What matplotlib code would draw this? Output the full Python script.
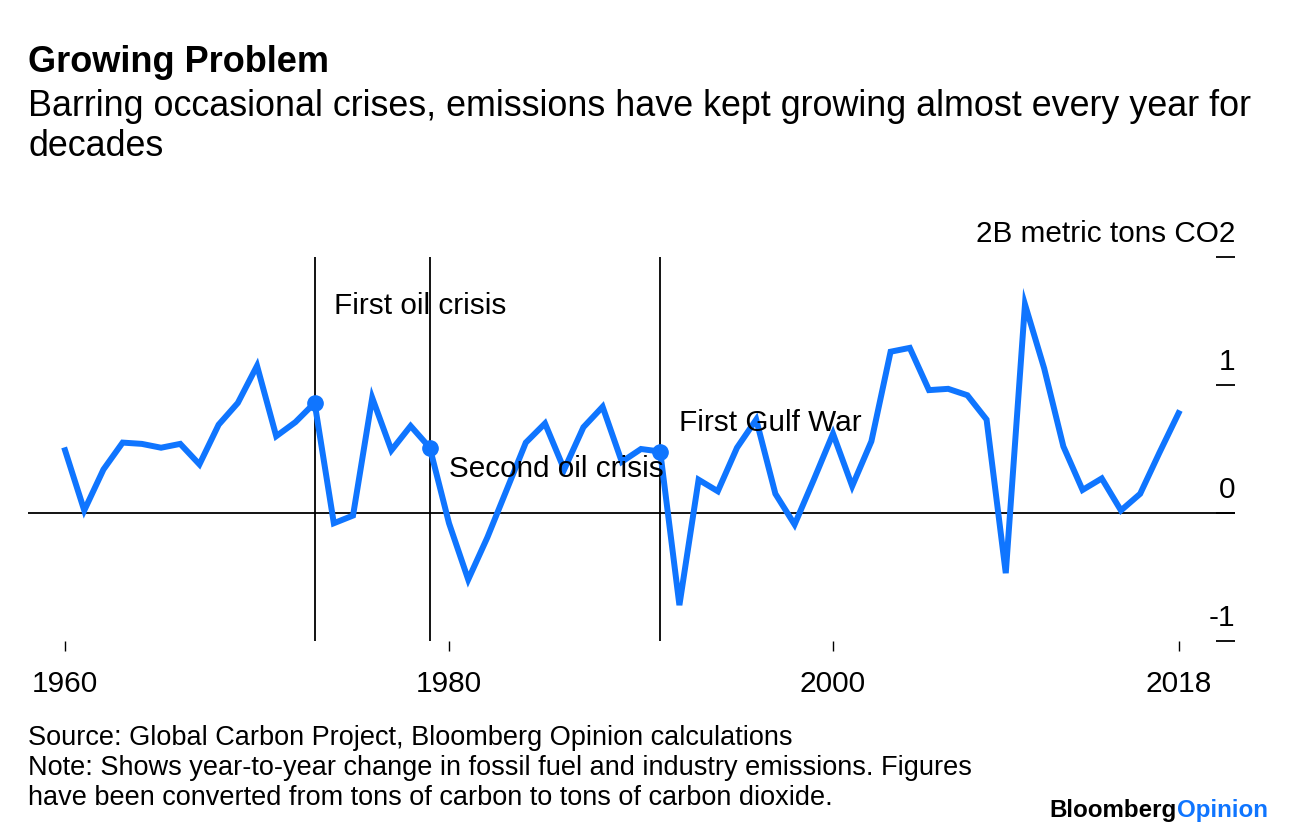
import matplotlib
matplotlib.use("Agg")
import matplotlib.pyplot as plt
import matplotlib.transforms as mtransforms

plt.rcParams['font.family'] = ['Liberation Sans', 'DejaVu Sans']

# year-to-year change in emissions, billion metric tons CO2
years = list(range(1960, 2019))
change = [0.49, 0.02, 0.34, 0.55, 0.54, 0.51, 0.54, 0.38, 0.69, 0.86,
          1.15, 0.60, 0.71, 0.86, -0.08, -0.02, 0.90, 0.49, 0.68, 0.51,
          -0.08, -0.52, -0.19, 0.18, 0.55, 0.70, 0.34, 0.67, 0.83, 0.40,
          0.50, 0.48, -0.72, 0.26, 0.17, 0.51, 0.73, 0.15, -0.09, 0.26,
          0.62, 0.21, 0.56, 1.26, 1.29, 0.96, 0.97, 0.92, 0.73, -0.47,
          1.63, 1.13, 0.52, 0.18, 0.27, 0.02, 0.15, 0.47, 0.78]

events = [1973, 1979, 1991]
event_labels = ["First oil crisis", "Second oil crisis", "First Gulf War"]
event_label_y = [1.62, 0.34, 0.70]

x_ticks = [1960, 1980, 2000, 2018]
y_ticks = [-1, 0, 1, 2]
y_tick_labels = ["-1", "0", "1", "2B metric tons CO2"]

blue = '#0f75ff'

fig = plt.figure(figsize=(12.96, 8.36), dpi=100)
ax = fig.add_axes([28 / 1296, (836 - 641) / 836, (1235 - 28) / 1296, 384 / 836])

ax.plot(years, change, color=blue, lw=4.3, solid_joinstyle='miter', zorder=3)
ev_vals = [change[years.index(e)] for e in events]
ax.plot(events, ev_vals, 'o', color=blue, ms=11, zorder=4)

for e, lab, ly in zip(events, event_labels, event_label_y):
    ax.axvline(e, color='black', lw=1.3, zorder=2)
    ax.text(e + 1, ly, lab, fontsize=21.4, va='center', ha='left', zorder=5)

ax.axhline(0, color='black', lw=1.3, zorder=2)

ax.set_xlim(1958.07, 2020.94)
ax.set_ylim(-1, 2)

for s in ax.spines.values():
    s.set_visible(False)

ax.set_xticks(x_ticks)
ax.set_xticklabels([str(t) for t in x_ticks])
ax.tick_params(axis='x', length=7, width=1, direction='out', pad=14, labelsize=21.5)

ax.set_yticks(y_ticks)
ax.yaxis.tick_right()
ax.tick_params(axis='y', length=14, width=1.3, direction='in', labelright=False)

trans = mtransforms.blended_transform_factory(ax.transAxes, ax.transData)
for v, lab in zip(y_ticks, y_tick_labels):
    ax.annotate(lab, xy=(1.0, v), xycoords=trans, xytext=(0, 11),
                textcoords='offset points', ha='right', va='baseline', fontsize=21.4)

fig.text(28 / 1296, 1 - 63 / 836, "Growing Problem", fontsize=26, fontweight='bold',
         va='center', ha='left')
fig.text(28 / 1296, 1 - 106 / 836,
         "Barring occasional crises, emissions have kept growing almost every year for",
         fontsize=25.8, va='center', ha='left')
fig.text(28 / 1296, 1 - 147 / 836, "decades", fontsize=25.8, va='center', ha='left')

fig.text(28 / 1296, 1 - 738 / 836,
         "Source: Global Carbon Project, Bloomberg Opinion calculations",
         fontsize=19.5, va='center', ha='left')
fig.text(28 / 1296, 1 - 768 / 836,
         "Note: Shows year-to-year change in fossil fuel and industry emissions. Figures",
         fontsize=19.5, va='center', ha='left')
fig.text(28 / 1296, 1 - 798 / 836,
         "have been converted from tons of carbon to tons of carbon dioxide.",
         fontsize=19.5, va='center', ha='left')

logo = fig.text(1268 / 1296, 1 - 810 / 836, "Opinion", fontsize=17.4, fontweight='bold',
                color=blue, va='center', ha='right')
fig.canvas.draw()
bb = logo.get_window_extent()
fig.text(bb.x0 / 1296, 1 - 810 / 836, "Bloomberg", fontsize=17.4, fontweight='bold',
         color='black', va='center', ha='right')

fig.savefig("out.png", dpi=100)
